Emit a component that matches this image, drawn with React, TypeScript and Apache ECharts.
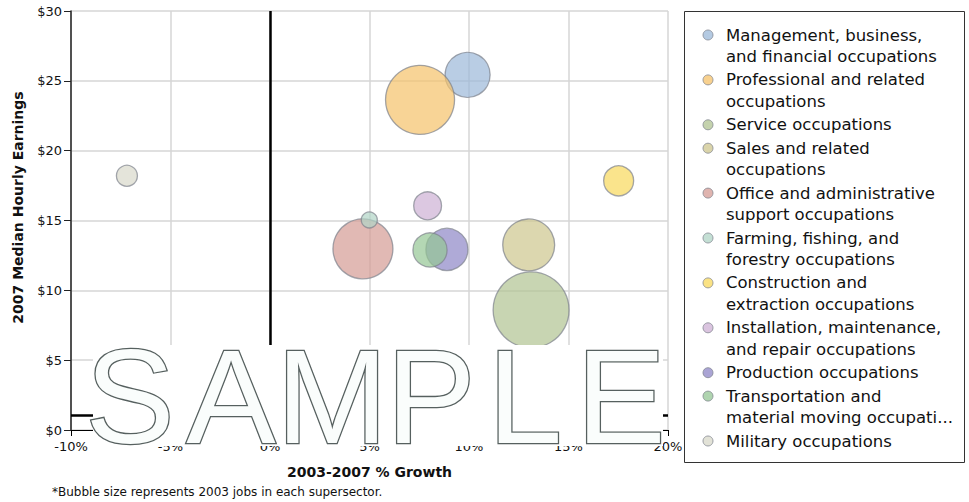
import React, { useEffect, useRef } from "react";
import * as echarts from "echarts";

const occupations = [
  "Management, business, and financial occupations",
  "Professional and related occupations",
  "Service occupations",
  "Sales and related occupations",
  "Office and administrative support occupations",
  "Farming, fishing, and forestry occupations",
  "Construction and extraction occupations",
  "Installation, maintenance, and repair occupations",
  "Production occupations",
  "Transportation and material moving occupations",
  "Military occupations",
];
const legendLines = [
  ["Management, business,", "and financial occupations"],
  ["Professional and related", "occupations"],
  ["Service occupations"],
  ["Sales and related", "occupations"],
  ["Office and administrative", "support occupations"],
  ["Farming, fishing, and", "forestry occupations"],
  ["Construction and", "extraction occupations"],
  ["Installation, maintenance,", "and repair occupations"],
  ["Production occupations"],
  ["Transportation and", "material moving occupati..."],
  ["Military occupations"],
];
// 2003-2007 % growth
const growth = [9.93, 7.54, 13.12, 13.0, 4.67, 4.99, 17.52, 7.92, 8.89, 8.04, -7.19];
// 2007 median hourly earnings ($)
const earnings = [25.43, 23.64, 8.6, 13.25, 12.97, 15.04, 17.84, 16.05, 12.93, 12.89, 18.2];
// 2003 jobs (millions)
const jobs2003 = [11.5, 27.0, 32.7, 15.3, 20.4, 1.45, 5.1, 4.4, 10.0, 6.6, 2.5];
const colors = [
  "#9bb8d8", "#f5c269", "#b0c391", "#cdc68d", "#d49b94", "#b0d4c6",
  "#f8d85b", "#cdb0d4", "#8d86c6", "#94c694", "#d8d8ca",
];
const xTicks = [-10, -5, 0, 5, 10, 15, 20];
const xTickLabels = ["-10%", "-5%", "0%", "5%", "10%", "15%", "20%"];
const yTicks = [0, 5, 10, 15, 20, 25, 30];
const yTickLabels = ["$0", "$5", "$10", "$15", "$20", "$25", "$30"];
const refLineX = 0;
const refLineY = 1.07;
const footnote = "*Bubble size represents 2003 jobs in each supersector.";
const watermark = ["S", "A", "M", "P", "L", "E"];

const FONT = '"DejaVu Sans", sans-serif';

export default function App() {
  const ref = useRef<HTMLDivElement>(null);
  useEffect(() => {
    const chart = echarts.init(ref.current!, null, { renderer: "svg" });

    const series: any[] = occupations.map((name, i) => ({
      type: "scatter",
      name,
      data: [[growth[i], earnings[i], jobs2003[i]]],
      symbolSize: (v: number[]) => Math.sqrt(v[2]) * 13.28,
      itemStyle: {
        color: colors[i],
        opacity: 0.7,
        borderColor: "#7d828c",
        borderWidth: 1.3,
      },
      z: 3,
    }));
    series.push({
      type: "line",
      name: "ref",
      data: [],
      markLine: {
        silent: true,
        symbol: "none",
        label: { show: false },
        lineStyle: { color: "#000", width: 2.5, type: "solid" },
        data: [{ xAxis: refLineX }, { yAxis: refLineY }],
      },
      z: 2,
    });

    // legend via graphic
    const legendEls: any[] = [
      {
        type: "rect",
        shape: { x: 684.5, y: 11.5, width: 280, height: 451 },
        style: { fill: "#fff", stroke: "#333", lineWidth: 1 },
      },
    ];
    let y = 35;
    legendLines.forEach((lines, i) => {
      legendEls.push({
        type: "circle",
        shape: { cx: 708, cy: y, r: 5 },
        style: { fill: colors[i], opacity: 0.75, stroke: "#7d828c", lineWidth: 1 },
      });
      lines.forEach((t, k) => {
        legendEls.push({
          type: "text",
          style: {
            text: t,
            x: 726,
            y: y + k * 21.5,
            verticalAlign: "middle",
            align: "left",
            font: `16.5px ${FONT}`,
            fill: "#111",
          },
        });
      });
      y += lines.length * 21.5 + 1.9;
    });

    const letterX = [130, 231, 332, 431, 525, 621];
    const wmEls: any[] = [
      {
        type: "rect",
        shape: { x: 93, y: 345, width: 570, height: 101 },
        style: { fill: "#fff" },
        z: 100,
      },
    ];
    watermark.forEach((ch, i) => {
      wmEls.push({
        type: "text",
        z: 102,
        style: {
          text: ch,
          x: letterX[i],
          y: 396,
          align: "center",
          verticalAlign: "middle",
          font: `134px "Liberation Sans", sans-serif`,
          fill: "#fafdfc",
          stroke: "#56605f",
          lineWidth: 2.6,
        },
      });
    });

    chart.setOption({
      animation: false,
      textStyle: { fontFamily: FONT },
      grid: { left: 71, top: 11, width: 597, height: 419 },
      xAxis: {
        type: "value",
        min: -10,
        max: 20,
        interval: 5,
        name: "2003-2007 % Growth",
        nameLocation: "middle",
        nameGap: 35,
        nameTextStyle: { fontFamily: FONT, fontWeight: "bold", fontSize: 14, color: "#111" },
        axisLine: { show: true, onZero: false, lineStyle: { color: "#000", width: 1 } },
        axisTick: { show: true, length: 6, lineStyle: { color: "#000" } },
        axisLabel: {
          margin: 10,
          fontSize: 13,
          color: "#111",
          fontFamily: FONT,
          formatter: (v: number) => xTickLabels[xTicks.indexOf(v)] ?? "",
        },
        splitLine: { show: true, lineStyle: { color: "#d6d6d6", width: 1.5 } },
      },
      yAxis: {
        type: "value",
        min: 0,
        max: 30,
        interval: 5,
        name: "2007 Median Hourly Earnings",
        nameLocation: "middle",
        nameGap: 46,
        nameTextStyle: {
          fontFamily: FONT,
          fontWeight: "bold",
          fontSize: 14,
          color: "#111",
          padding: [0, 0, 0, 26],
        },
        axisLine: { show: true, onZero: false, lineStyle: { color: "#222", width: 1.5 } },
        axisTick: { show: true, length: 7, lineStyle: { color: "#222" } },
        axisLabel: {
          margin: 9,
          fontSize: 13,
          color: "#111",
          fontFamily: FONT,
          formatter: (v: number) => yTickLabels[yTicks.indexOf(v)] ?? "",
        },
        splitLine: { show: true, lineStyle: { color: "#d6d6d6", width: 1.5 } },
      },
      series,
      graphic: [
        ...legendEls,
        {
          type: "text",
          style: {
            text: footnote,
            x: 52,
            y: 492,
            verticalAlign: "middle",
            font: `12px ${FONT}`,
            fill: "#111",
          },
        },
        ...wmEls,
      ],
    });
    return () => chart.dispose();
  }, []);
  return (
    <div
      ref={ref}
      style={{ position: "fixed", left: 0, top: 0, width: 969, height: 502, background: "#fff" }}
    />
  );
}
